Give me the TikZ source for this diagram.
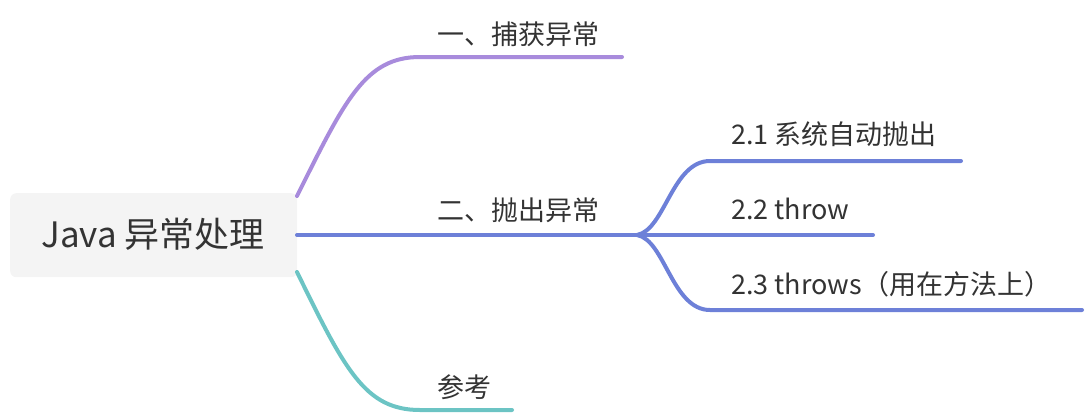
\documentclass[tikz,border=0pt]{standalone}
\usepackage{fontspec}
\setmainfont{Noto Sans CJK SC}
\definecolor{cpurple}{HTML}{A88BDC}
\definecolor{cblue}{HTML}{6D80D8}
\definecolor{cteal}{HTML}{6CC4C4}
\definecolor{ctext}{HTML}{333333}
\definecolor{cbox}{HTML}{F4F4F4}
\tikzset{
  branch/.style={line width=4pt, line cap=round},
  lbl/.style={anchor=base west, inner sep=0pt, text=ctext, font=\fontsize{27}{30}\selectfont},
}
\begin{document}
\begin{tikzpicture}[x=1pt,y=-1pt]
\useasboundingbox (0,0) rectangle (1090,416);
% root
\node[fill=cbox, rounded corners=6pt, minimum width=287pt, minimum height=84pt, anchor=north west] (root) at (10,193) {};
\node[anchor=base, inner sep=0pt, text=ctext, font=\fontsize{35}{40}\selectfont] (roottext) at (153,247) {Java 异常处理};
\coordinate (rp) at (297,196);
\coordinate (rb) at (297,235);
\coordinate (rt) at (297,272);
% level 1
\coordinate (p1) at (420,57);
\coordinate (p2) at (622,57);
\coordinate (b1) at (637,235);
\coordinate (t1) at (420,410);
\coordinate (t2) at (512,410);
\draw[branch, cpurple] (rp) .. controls (345,100) and (365,57) .. (p1) -- (p2);
\draw[branch, cblue] (rb) -- (b1);
\draw[branch, cteal] (rt) .. controls (345,370) and (365,410) .. (t1) -- (t2);
\node[lbl] (n1) at (437,44) {一、捕获异常};
\node[lbl] (n2) at (437,220) {二、抛出异常};
\node[lbl] (n3) at (437,397) {参考};
% level 2
\coordinate (s1a) at (710,161);
\coordinate (s1b) at (961,161);
\coordinate (s2b) at (873,235);
\coordinate (s3a) at (710,310);
\coordinate (s3b) at (1082,310);
\draw[branch, cblue] (b1) .. controls (665,230) and (672,161) .. (s1a) -- (s1b);
\draw[branch, cblue] (b1) -- (s2b);
\draw[branch, cblue] (b1) .. controls (665,240) and (672,310) .. (s3a) -- (s3b);
\node[lbl] (m1) at (731,144) {2.1 系统自动抛出};
\node[lbl] (m2) at (731,219) {2.2 throw};
\node[lbl] (m3) at (731,294) {2.3 throws（用在方法上）};
\end{tikzpicture}
\end{document}
